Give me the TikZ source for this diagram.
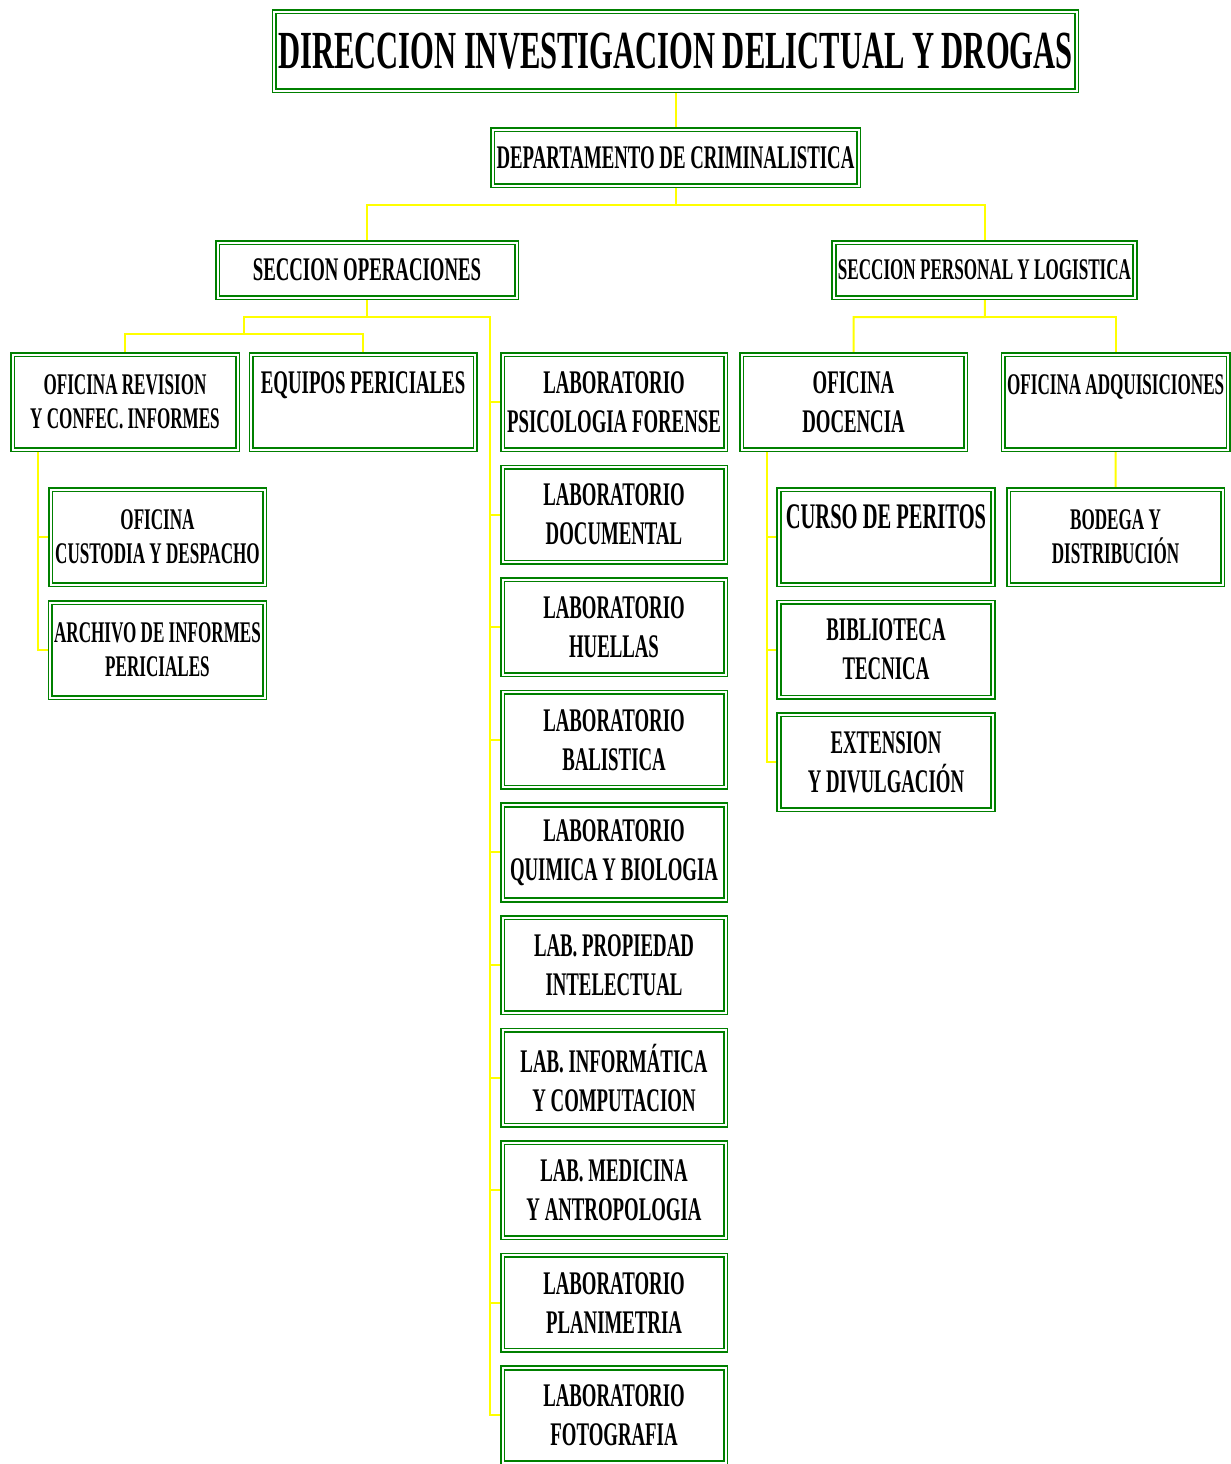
\documentclass[tikz,border=0pt]{standalone}
\usepackage{fontspec}
\setmainfont{Liberation Serif}[FakeStretch=0.57]
\usepackage{tikz}
\usetikzlibrary{positioning, backgrounds}
\definecolor{boxgreen}{RGB}{0,128,0}
\definecolor{linkyellow}{RGB}{255,255,0}
\tikzset{
  box/.style={
    rectangle, draw=boxgreen, double=white, line width=0.8pt,
    double distance=1pt, fill=white, align=center, inner sep=2pt,
    minimum width=112pt, minimum height=47.5pt,
    font=\fontsize{16.5}{19.5}\selectfont\bfseries
  },
  sbox/.style={box, font=\fontsize{15}{17}\selectfont\bfseries},
  lab/.style={box, minimum width=111.5pt},
  sub/.style={minimum width=107pt},
  con/.style={draw=linkyellow, line width=1pt}
}

\begin{document}
\begin{tikzpicture}[x=0.5pt, y=-0.5pt]
  \useasboundingbox (0,0) rectangle (1231,1464);

  % cabecera
  \node[box, minimum width=400pt, minimum height=39.5pt,
        font=\fontsize{26.8}{30}\selectfont\bfseries] (dir) at (675.5,51)
        {DIRECCION INVESTIGACION DELICTUAL Y DROGAS};
  \node[box, minimum width=183pt, minimum height=28pt] (dept) at (675.5,157.5)
        {DEPARTAMENTO DE CRIMINALISTICA};
  \node[box, minimum width=149.5pt, minimum height=27.5pt] (secop) at (367,270)
        {SECCION OPERACIONES};
  \node[sbox, minimum width=149.5pt, minimum height=27.5pt] (secper) at (984.5,270)
        {SECCION PERSONAL Y LOGISTICA};

  % seccion operaciones
  \node[sbox, minimum width=112.5pt] (revision) at (125,402)
        {OFICINA REVISION\\Y CONFEC. INFORMES};
  \node[box, right=6pt of revision] (equipos)
        {EQUIPOS PERICIALES\\~};
  \node[sbox, sub] (custodia) at (157.5,537)
        {OFICINA\\CUSTODIA Y DESPACHO};
  \node[sbox, sub] (archivo) at (157.5,650)
        {ARCHIVO DE INFORMES\\PERICIALES};

  \node[lab] (lab1) at (614,402) {LABORATORIO\\PSICOLOGIA FORENSE};
  \node[lab, below=8pt of lab1] (lab2) {LABORATORIO\\DOCUMENTAL};
  \node[lab, below=8pt of lab2] (lab3) {LABORATORIO\\HUELLAS};
  \node[lab, below=8pt of lab3] (lab4) {LABORATORIO\\BALISTICA};
  \node[lab, below=8pt of lab4] (lab5) {LABORATORIO\\QUIMICA Y BIOLOGIA};
  \node[lab, below=8pt of lab5] (lab6) {LAB. PROPIEDAD\\INTELECTUAL};
  \node[lab, below=8pt of lab6] (lab7) {LAB. INFORMÁTICA\\Y COMPUTACION};
  \node[lab, below=8pt of lab7] (lab8) {LAB. MEDICINA\\Y ANTROPOLOGIA};
  \node[lab, below=8pt of lab8] (lab9) {LABORATORIO\\PLANIMETRIA};
  \node[lab, below=8pt of lab9] (lab10) {LABORATORIO\\FOTOGRAFIA};

  % seccion personal y logistica
  \node[box] (docencia) at (853.5,402) {OFICINA\\DOCENCIA};
  \node[sbox, right=18pt of docencia] (adquis) {OFICINA ADQUISICIONES\\~};
  \node[box, sub, font=\fontsize{18}{20}\selectfont\bfseries] (curso) at (886,537)
        {CURSO DE PERITOS\\~};
  \node[box, sub, below=8pt of curso] (biblio) {BIBLIOTECA\\TECNICA};
  \node[box, sub, below=8pt of biblio] (extension) {EXTENSION\\Y DIVULGACIÓN};
  \node[sbox, sub] (bodega) at (1115.5,537) {BODEGA Y\\DISTRIBUCIÓN};

  \coordinate (jsec) at (675.5,205);
  \coordinate (jop)  at (367,317);
  \coordinate (jof)  at (244,334);
  \coordinate (jlab) at (490,317);
  \coordinate (jrev) at (38,452);
  \coordinate (jper) at (985,317);
  \coordinate (jdoc) at (767,452);

  \begin{scope}[on background layer]
    \draw[con] (dir) -- (dept);
    \draw[con] (dept) -- (jsec) -| (secop);
    \draw[con] (jsec) -| (secper);

    \draw[con] (secop) -- (jop) -| (jof) -| (revision);
    \draw[con] (jof) -| (equipos);
    \draw[con] (jop) -- (jlab) |- (lab10);
    \draw[con] (jlab) |- (lab1);
    \draw[con] (jlab) |- (lab2);
    \draw[con] (jlab) |- (lab3);
    \draw[con] (jlab) |- (lab4);
    \draw[con] (jlab) |- (lab5);
    \draw[con] (jlab) |- (lab6);
    \draw[con] (jlab) |- (lab7);
    \draw[con] (jlab) |- (lab8);
    \draw[con] (jlab) |- (lab9);
    \draw[con] (jrev) |- (custodia);
    \draw[con] (jrev) |- (archivo);

    \draw[con] (secper) -- (jper) -| (docencia);
    \draw[con] (jper) -| (adquis);
    \draw[con] (jdoc) |- (curso);
    \draw[con] (jdoc) |- (biblio);
    \draw[con] (jdoc) |- (extension);
    \draw[con] (adquis) -- (bodega);
  \end{scope}
\end{tikzpicture}
\end{document}
